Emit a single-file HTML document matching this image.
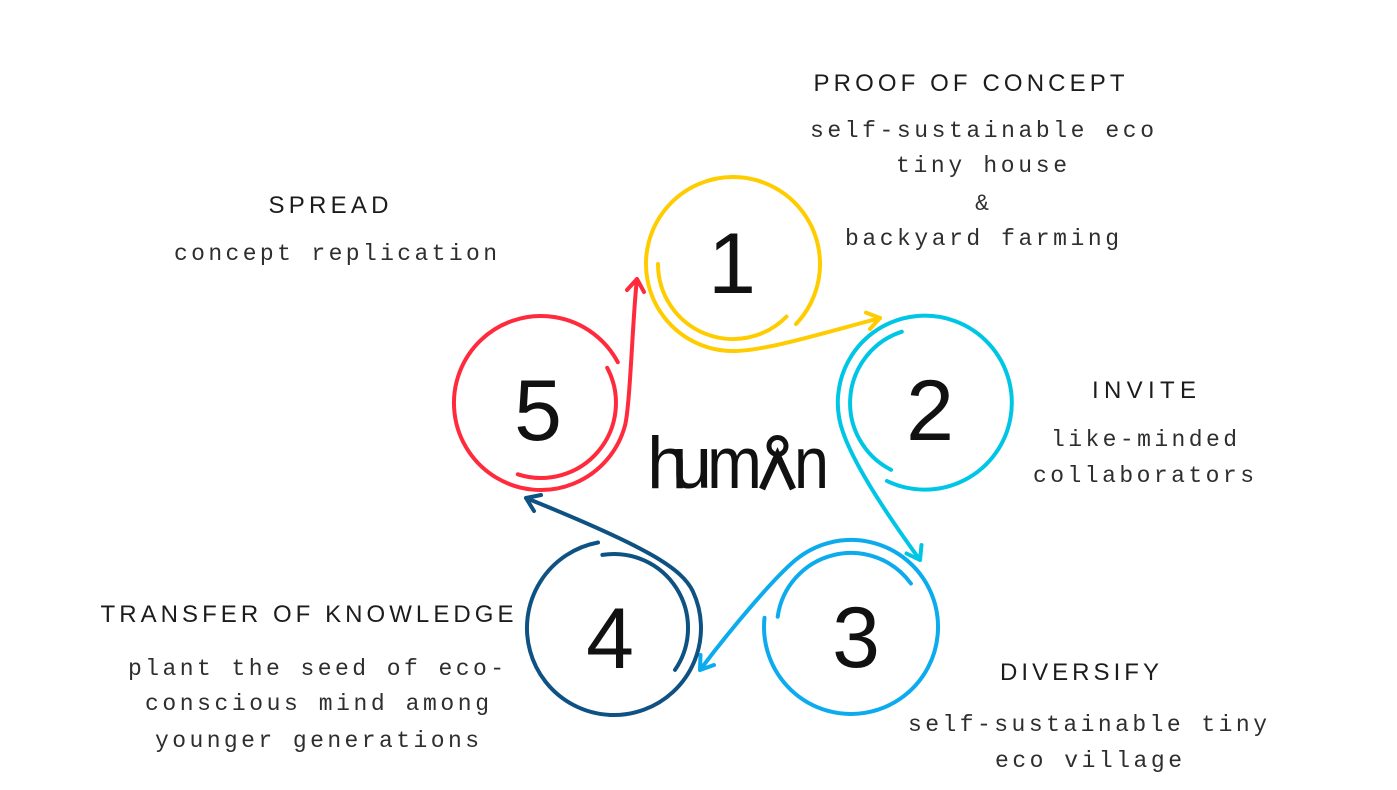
<!DOCTYPE html>
<html>
<head>
<meta charset="utf-8">
<style>
  html, body { margin: 0; padding: 0; background: #ffffff; }
  body { width: 1397px; height: 790px; overflow: hidden; }
  svg { display: block; }
  .title { font-family: "Liberation Sans", "DejaVu Sans", sans-serif; font-size: 24px; fill: #1c1c1c; }
  .mono { font-family: "Liberation Mono", "DejaVu Sans Mono", monospace; font-size: 23px; fill: #2e2e2e; }
  .digit { font-family: "Liberation Sans", "DejaVu Sans", sans-serif; font-size: 86px; fill: #111; }
  .logo { font-family: "Liberation Sans", "DejaVu Sans", sans-serif; font-size: 73px; fill: #111; }
</style>
</head>
<body>
<svg width="1397" height="790" viewBox="0 0 1397 790" xmlns="http://www.w3.org/2000/svg">
  <rect x="0" y="0" width="1397" height="790" fill="#ffffff"/>

  <g fill="none" stroke-width="4" stroke-linecap="round" stroke-linejoin="round">
    <!-- Circle 1 yellow -->
    <g stroke="#FFCC00">
      <path d="M 796 324 A 87 87 0 1 0 733 351 C 765 351 820 334 880 318"/>
      <path d="M 866 312.6 L 880 318 L 870 329"/>
      <path d="M 658 264 A 75 75 0 0 0 786.5 316.6"/>
    </g>
    <!-- Circle 2 cyan -->
    <g stroke="#00C6E6">
      <path d="M 887 481 A 87 87 0 1 0 843.2 432.8 C 853 461 880 505 920 560"/>
      <path d="M 906.5 553.5 L 920 560 L 921.5 545"/>
      <path d="M 901.8 331.7 A 75 75 0 0 0 891 469.8"/>
    </g>
    <!-- Circle 3 blue -->
    <g stroke="#0BABEE">
      <path d="M 764.5 617.9 A 87 87 0 1 0 795 560.4 C 772 580 730 630 700 670"/>
      <path d="M 714 665 L 700 670 L 700.5 655"/>
      <path d="M 777.7 616.7 A 74 74 0 0 1 910.9 583.5"/>
    </g>
    <!-- Circle 4 dark blue -->
    <g stroke="#0E5283">
      <path d="M 598 542.5 A 87 87 0 1 0 692.8 591.2 C 682 569 650 548 526 498"/>
      <path d="M 534 511 L 526 498 L 541 495"/>
      <path d="M 602.4 554.9 A 74 74 0 0 1 675 669.9"/>
    </g>
    <!-- Circle 5 red -->
    <g stroke="#FF2B3C">
      <path d="M 617.8 362.2 A 87 87 0 1 0 625 425.5 C 630.2 406 633 310 637 279"/>
      <path d="M 627 290 L 637 279 L 644 292"/>
      <path d="M 607.2 367.8 A 75 75 0 0 1 517.8 474.3"/>
    </g>
  </g>

  <!-- Digits -->
  <text class="digit" x="732" y="293" text-anchor="middle">1</text>
  <text class="digit" x="930" y="440" text-anchor="middle">2</text>
  <text class="digit" x="856" y="667" text-anchor="middle">3</text>
  <text class="digit" x="610" y="668" text-anchor="middle">4</text>
  <text class="digit" x="538" y="440" text-anchor="middle">5</text>

  <!-- Logo -->
  <text class="logo" x="647" y="488">h</text>
  <text class="logo" x="671.5" y="488">u</text>
  <text class="logo" x="707" y="488" textLength="55" lengthAdjust="spacingAndGlyphs">m</text>
  <g fill="none" stroke="#111">
    <circle cx="777.5" cy="446" r="8.5" stroke-width="5"/>
    <path d="M 762 489 L 777.5 455 L 793 489" stroke-width="6.5" stroke-linejoin="miter"/>
  </g>
  <text class="logo" x="794" y="488" textLength="35" lengthAdjust="spacingAndGlyphs">n</text>

  <!-- Titles -->
  <text class="title" x="813.5" y="91" textLength="311" lengthAdjust="spacing">PROOF OF CONCEPT</text>
  <text class="title" x="268.5" y="213" textLength="120" lengthAdjust="spacing">SPREAD</text>
  <text class="title" x="1092" y="398" textLength="104" lengthAdjust="spacing">INVITE</text>
  <text class="title" x="1000" y="680" textLength="159" lengthAdjust="spacing">DIVERSIFY</text>
  <text class="title" x="100.5" y="622" textLength="413" lengthAdjust="spacing">TRANSFER OF KNOWLEDGE</text>

  <!-- Body text -->
  <text class="mono" x="810" y="137" textLength="344" lengthAdjust="spacing">self-sustainable eco</text>
  <text class="mono" x="896" y="172" textLength="171" lengthAdjust="spacing">tiny house</text>
  <text class="mono" x="982" y="210" text-anchor="middle">&amp;</text>
  <text class="mono" x="845" y="245" textLength="274" lengthAdjust="spacing">backyard farming</text>

  <text class="mono" x="174" y="260" textLength="323" lengthAdjust="spacing">concept replication</text>

  <text class="mono" x="1051" y="446" textLength="186" lengthAdjust="spacing">like-minded</text>
  <text class="mono" x="1033" y="482" textLength="221" lengthAdjust="spacing">collaborators</text>

  <text class="mono" x="908" y="731" textLength="359" lengthAdjust="spacing">self-sustainable tiny</text>
  <text class="mono" x="995" y="767" textLength="187" lengthAdjust="spacing">eco village</text>

  <text class="mono" x="128" y="675" textLength="376" lengthAdjust="spacing">plant the seed of eco-</text>
  <text class="mono" x="145" y="710" textLength="344" lengthAdjust="spacing">conscious mind among</text>
  <text class="mono" x="155" y="747" textLength="324" lengthAdjust="spacing">younger generations</text>
</svg>
</body>
</html>
